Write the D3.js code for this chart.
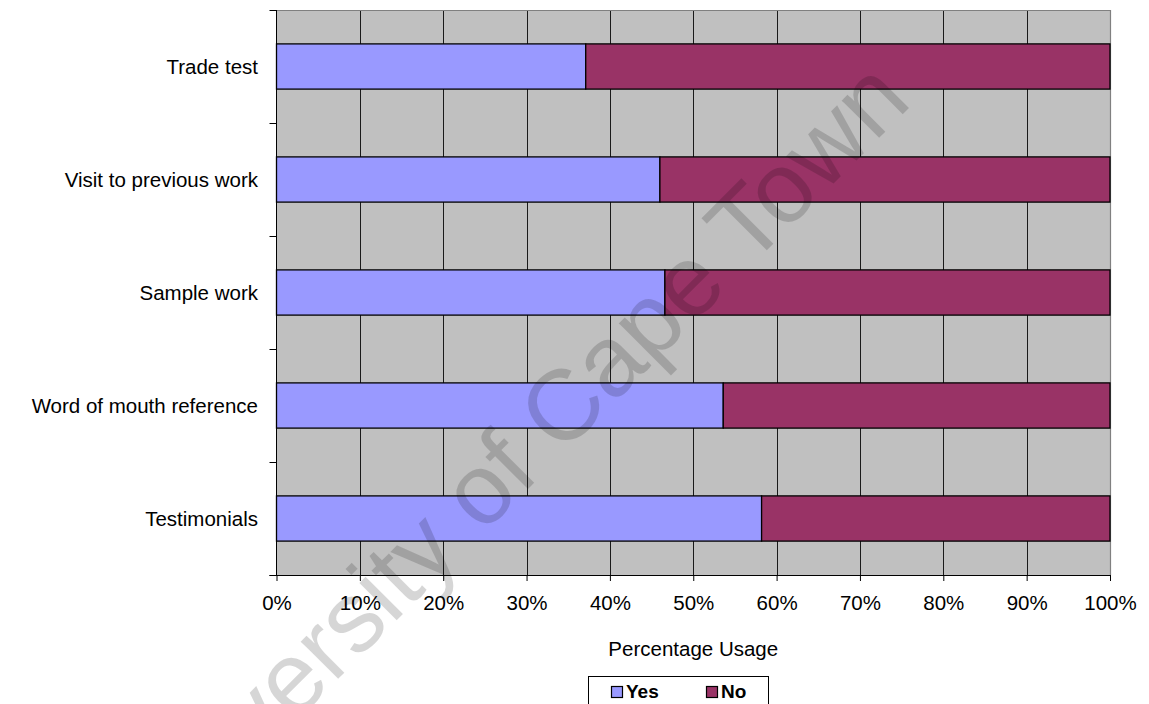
<!DOCTYPE html>
<html>
<head>
<meta charset="utf-8">
<script src="https://cdn.jsdelivr.net/npm/d3@7"></script>
<style>
  html, body { margin: 0; padding: 0; background: #fff; }
  svg { display: block; font-family: "Liberation Sans", Arial, sans-serif; }
</style>
</head>
<body>
<svg id="chart" width="1149" height="704"></svg>
<script>
// Methods used to check a contractor's work, share of respondents using each
const categories = ["Trade test", "Visit to previous work", "Sample work", "Word of mouth reference", "Testimonials"];
const yesValues = [37.1, 46.0, 46.6, 53.6, 58.2];
const noValues = [62.9, 54.0, 53.4, 46.4, 41.8];
const seriesNames = ["Yes", "No"];
const seriesColors = ["#9999FF", "#993366"];
const xTicks = [0, 10, 20, 30, 40, 50, 60, 70, 80, 90, 100];
const axisTitle = "Percentage Usage";
const watermark = "University of Cape Town";

const svg = d3.select("#chart");
const plot = { left: 276.5, right: 1110, top: 10, bottom: 575 };

const x = d3.scaleLinear().domain([0, 100]).range([plot.left, plot.right]);
const y = d3.scaleBand().domain(categories).range([plot.top, plot.bottom])
  .paddingInner(0.6).paddingOuter(0.3);

// plot background
svg.append("rect")
  .attr("x", plot.left).attr("y", plot.top)
  .attr("width", plot.right - plot.left).attr("height", plot.bottom - plot.top)
  .attr("fill", "#C0C0C0");

// vertical gridlines
svg.append("g").selectAll("line")
  .data(xTicks.slice(1, -1))
  .join("line")
  .attr("x1", d => Math.round(x(d)) + 0.5).attr("x2", d => Math.round(x(d)) + 0.5)
  .attr("y1", plot.top).attr("y2", plot.bottom)
  .attr("stroke", "#1a1a1a").attr("stroke-width", 1);

// top and right frame
svg.append("path")
  .attr("d", `M${plot.left},${plot.top + 0.5}H${plot.right + 0.5}V${plot.bottom}`)
  .attr("fill", "none").attr("stroke", "#808080").attr("stroke-width", 1.2);

// stacked bars
const rows = categories.map((c, i) => ({ cat: c, Yes: yesValues[i], No: noValues[i] }));
const stacked = d3.stack().keys(seriesNames)(rows);
svg.append("g").selectAll("g")
  .data(stacked)
  .join("g")
  .attr("fill", (d, i) => seriesColors[i])
  .selectAll("rect")
  .data(d => d)
  .join("rect")
  .attr("x", d => x(d[0]))
  .attr("y", d => y(d.data.cat))
  .attr("width", d => x(d[1]) - x(d[0]))
  .attr("height", y.bandwidth())
  .attr("stroke", "#000")
  .attr("stroke-width", 1.3);

// x axis
const xAxis = d3.axisBottom(x).tickValues(xTicks).tickFormat(d => d + "%")
  .tickSize(6).tickPadding(14);
const gx = svg.append("g").attr("transform", `translate(0,${plot.bottom})`).call(xAxis);
gx.select(".domain").remove();
gx.append("line").attr("x1", plot.left - 7).attr("x2", plot.right).attr("y1", 0.5).attr("y2", 0.5)
  .attr("stroke", "#000");
gx.selectAll(".tick line").attr("stroke", "#000");
gx.selectAll(".tick text").attr("font-size", 20.5).attr("fill", "#000")
  .attr("font-family", "Liberation Sans, Arial, sans-serif");

// y axis: ticks sit on the category boundaries
const boundaries = categories.map(c => y(c) - y.step() * y.paddingOuter()).concat([plot.bottom]);
const gy = svg.append("g");
gy.append("line").attr("x1", plot.left).attr("x2", plot.left)
  .attr("y1", plot.top).attr("y2", plot.bottom).attr("stroke", "#000");
gy.selectAll("line.tk").data(boundaries).join("line").attr("class", "tk")
  .attr("x1", plot.left - 7).attr("x2", plot.left)
  .attr("y1", d => Math.round(d) + 0.5).attr("y2", d => Math.round(d) + 0.5)
  .attr("stroke", "#000");
gy.selectAll("text").data(categories).join("text")
  .attr("x", 258)
  .attr("y", d => y(d) + y.bandwidth() / 2)
  .attr("dy", "0.35em")
  .attr("text-anchor", "end")
  .attr("font-size", 20.5)
  .text(d => d);

// axis title
svg.append("text")
  .attr("x", x(50)).attr("y", 656)
  .attr("text-anchor", "middle").attr("font-size", 20.5)
  .text(axisTitle);

// legend
const legend = svg.append("g");
legend.append("rect").attr("x", 588.5).attr("y", 676.5).attr("width", 180).attr("height", 40)
  .attr("fill", "#fff").attr("stroke", "#000");
const legendX = [611, 706];
seriesNames.forEach((name, i) => {
  legend.append("rect").attr("x", legendX[i] + 0.5).attr("y", 686.5).attr("width", 11).attr("height", 11)
    .attr("fill", seriesColors[i]).attr("stroke", "#000").attr("stroke-width", 1.2);
  legend.append("text").attr("x", legendX[i] + 15).attr("y", 698)
    .attr("font-size", 19).attr("font-weight", "bold").text(name);
});

// watermark
svg.append("text")
  .attr("transform", "translate(533,484) rotate(-45)")
  .attr("text-anchor", "middle")
  .attr("font-size", 100)
  .attr("fill", "#000")
  .attr("fill-opacity", 0.16)
  .text(watermark);
</script>
</body>
</html>
